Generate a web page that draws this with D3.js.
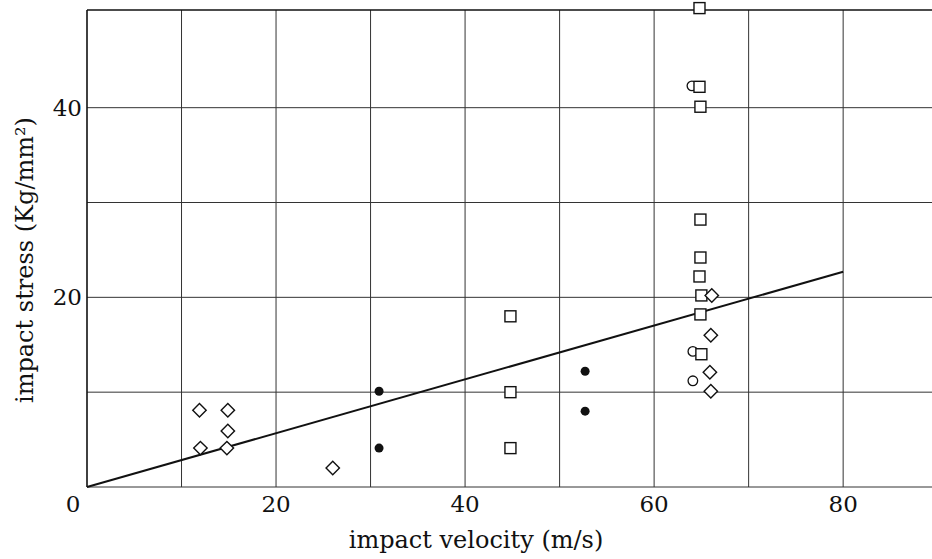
<!DOCTYPE html>
<html>
<head>
<meta charset="utf-8">
<script src="https://cdn.jsdelivr.net/npm/d3@7"></script>
<style>
  html, body { margin: 0; padding: 0; background: #fff; overflow: hidden; }
  svg { display: block; }
  text { font-family: "DejaVu Serif", "Liberation Serif", serif; fill: #111; }
</style>
</head>
<body>
<div id="plot"></div>
<script>
// values: [velocity m/s, stress Kg/mm2]
const diamonds = [[11.9, 8.1], [14.9, 8.1], [14.9, 5.9], [12.0, 4.1], [14.8, 4.1], [26.0, 2.0],
  [66.1, 20.2], [66.0, 16.0], [65.9, 12.1], [66.0, 10.1]];
const squares = [[64.8, 50.5], [64.8, 42.2], [64.9, 40.1], [64.9, 28.2], [64.9, 24.2], [64.8, 22.2],
  [65.0, 20.2], [64.9, 18.2], [65.0, 14.0], [44.8, 18.0], [44.8, 10.0], [44.8, 4.1]];
const openCircles = [[64.0, 42.3], [64.1, 14.3], [64.1, 11.2]];
const dots = [[30.9, 10.1], [30.9, 4.1], [52.7, 12.2], [52.7, 8.0]];
const fitLine = [[0, 0], [80, 22.7]];

const xTicks = [20, 40, 60, 80];
const yTicks = [20, 40];
const xGrid = [10, 20, 30, 40, 50, 60, 70, 80];
const yGrid = [0, 10, 20, 30, 40];

const w = 932;
const h = 559;
const margin = {top: 10, right: 0, bottom: 72, left: 87};
const innerWidth = w - margin.left - margin.right;
const innerHeight = h - margin.top - margin.bottom;

const svg = d3.select("div#plot")
  .append("svg")
    .attr("width", w)
    .attr("height", h);

const xScale = d3.scaleLinear()
    .domain([0, 89.4])
    .range([0, innerWidth]);

const yScale = d3.scaleLinear()
    .domain([0, 50.3])
    .range([innerHeight, 0]);

const g = svg.append("g")
    .attr("transform", `translate (${margin.left}, ${margin.top})`);

// grid
g.append("g")
  .selectAll("line")
  .data(xGrid)
  .enter().append("line")
    .attr("x1", d => xScale(d))
    .attr("x2", d => xScale(d))
    .attr("y1", 0)
    .attr("y2", innerHeight)
    .attr("stroke", "#333")
    .attr("stroke-width", 1);

g.append("g")
  .selectAll("line")
  .data(yGrid)
  .enter().append("line")
    .attr("x1", 0)
    .attr("x2", innerWidth)
    .attr("y1", d => yScale(d))
    .attr("y2", d => yScale(d))
    .attr("stroke", "#333")
    .attr("stroke-width", 1);

// frame: left and top
g.append("line")
    .attr("x1", 0).attr("x2", 0)
    .attr("y1", 0).attr("y2", innerHeight)
    .attr("stroke", "#111").attr("stroke-width", 1.6);
g.append("line")
    .attr("x1", 0).attr("x2", innerWidth)
    .attr("y1", 0).attr("y2", 0)
    .attr("stroke", "#111").attr("stroke-width", 1.4);

// tick labels
g.append("g")
  .selectAll("text")
  .data(xTicks)
  .enter().append("text")
    .attr("x", d => xScale(d))
    .attr("y", innerHeight + 25)
    .attr("text-anchor", "middle")
    .style("font-size", "23px")
    .text(d => d);

g.append("g")
  .selectAll("text")
  .data(yTicks)
  .enter().append("text")
    .attr("x", -5)
    .attr("y", d => yScale(d) + 8)
    .attr("text-anchor", "end")
    .style("font-size", "23px")
    .text(d => d);

g.append("text")
    .attr("x", -14)
    .attr("y", innerHeight + 25)
    .attr("text-anchor", "middle")
    .style("font-size", "23px")
    .text("0");

// fit line
const line = d3.line().x(d => xScale(d[0])).y(d => yScale(d[1]));
g.append("path")
    .datum(fitLine)
    .attr("d", line)
    .attr("fill", "none")
    .attr("stroke", "#111")
    .attr("stroke-width", 2);

// markers
g.selectAll("circle.open")
  .data(openCircles)
  .enter().append("circle")
    .attr("class", "open")
    .attr("cx", d => xScale(d[0]))
    .attr("cy", d => yScale(d[1]))
    .attr("r", 4.8)
    .attr("fill", "#fff")
    .attr("stroke", "#111")
    .attr("stroke-width", 1.3);

g.selectAll("rect.sq")
  .data(squares)
  .enter().append("rect")
    .attr("class", "sq")
    .attr("x", d => xScale(d[0]) - 5.5)
    .attr("y", d => yScale(d[1]) - 5.5)
    .attr("width", 11)
    .attr("height", 11)
    .attr("fill", "#fff")
    .attr("stroke", "#111")
    .attr("stroke-width", 1.4);

const diamond = d3.symbol().type(d3.symbolSquare).size(90);
g.selectAll("path.dia")
  .data(diamonds)
  .enter().append("path")
    .attr("class", "dia")
    .attr("d", diamond)
    .attr("transform", d => `translate (${xScale(d[0])}, ${yScale(d[1])}) rotate(45)`)
    .attr("fill", "#fff")
    .attr("stroke", "#111")
    .attr("stroke-width", 1.4);

g.selectAll("circle.dot")
  .data(dots)
  .enter().append("circle")
    .attr("class", "dot")
    .attr("cx", d => xScale(d[0]))
    .attr("cy", d => yScale(d[1]))
    .attr("r", 4.5)
    .attr("fill", "#111");

// titles
svg.append("text")
    .attr("x", 476)
    .attr("y", 548)
    .attr("text-anchor", "middle")
    .style("font-size", "24px")
    .text("impact velocity (m/s)");

svg.append("text")
    .attr("transform", "translate (33, 260) rotate(-90)")
    .attr("text-anchor", "middle")
    .style("font-size", "24px")
    .text("impact stress (Kg/mm²)");
</script>
</body>
</html>
